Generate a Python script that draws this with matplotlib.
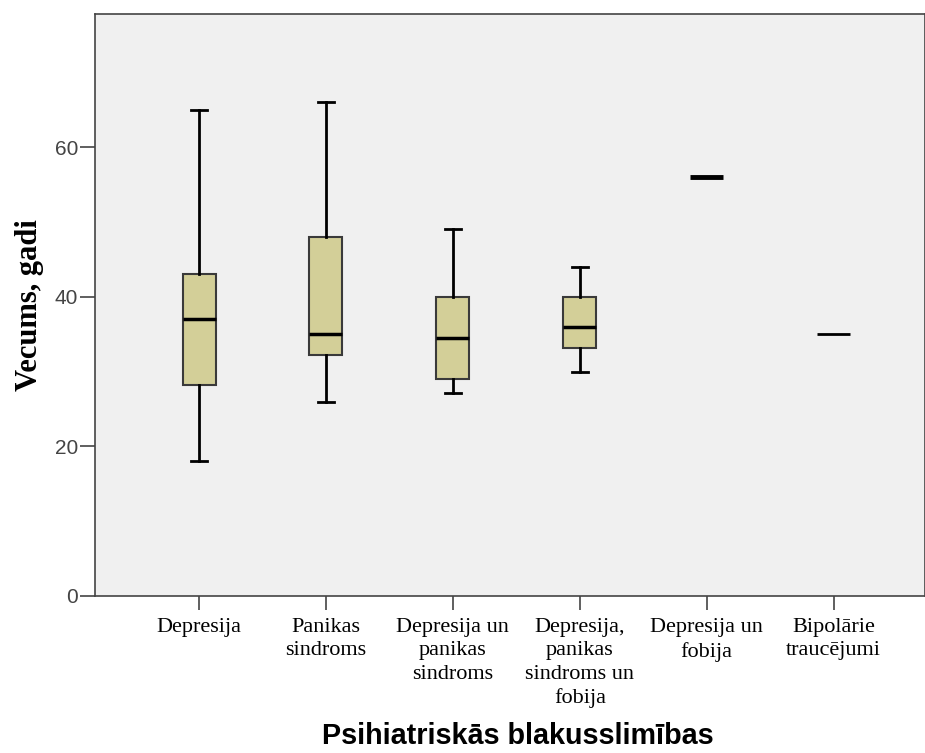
import matplotlib.pyplot as plt

# kategorijas un boxplot statistika (nolasīta no attēla)
labels = ["Depresija", "Panikas\nsindroms", "Depresija un\npanikas\nsindroms",
          "Depresija,\npanikas\nsindroms un\nfobija", "Depresija un\nfobija",
          "Bipolārie\ntraucējumi"]
whislo = [18, 26, 27.2, 30, 56, 35]
q1 = [28.2, 32.2, 29, 33.2, 56, 35]
med = [37, 35, 34.5, 36, 56, 35]
q3 = [43, 48, 40, 40, 56, 35]
whishi = [65, 66, 49, 44, 56, 35]

stats = []
for i in range(len(labels)):
    stats.append(dict(whislo=whislo[i], q1=q1[i], med=med[i], q3=q3[i],
                      whishi=whishi[i], fliers=[]))

fig = plt.figure(figsize=(9.25, 7.53), dpi=100)
ax = fig.add_axes([0.1027, 0.2085, 0.8973, 0.7729])
ax.set_facecolor('#f0f0f0')

pos = list(range(1, len(labels) + 1))
ax.bxp(stats[:4], positions=pos[:4], widths=0.26, patch_artist=True,
       showfliers=False,
       boxprops=dict(facecolor='#d3cf98', edgecolor='#3a3a3a', linewidth=1.5),
       medianprops=dict(color='black', linewidth=2.5),
       whiskerprops=dict(color='black', linewidth=2),
       capprops=dict(color='black', linewidth=2), capwidths=0.13)
# grupas ar vienu vērtību - tikai līnija
ax.hlines(med[4], pos[4] - 0.13, pos[4] + 0.13, color='black', linewidth=3.5)
ax.hlines(med[5], pos[5] - 0.13, pos[5] + 0.13, color='black', linewidth=2)

ax.set_xlim(0.18, 6.72)
ax.set_ylim(0, 77.8)
ax.set_yticks([0, 20, 40, 60])
ax.set_xticks(pos)
ax.set_xticklabels(labels, family='Liberation Serif', fontsize=16,
                   linespacing=1.3)
for t in ax.get_yticklabels():
    t.set_family('Liberation Sans')
    t.set_fontsize(15)
    t.set_color('#444444')
ax.tick_params(axis='y', length=11, width=1.2, color='#444444', pad=1)
ax.tick_params(axis='x', length=10, width=1.2, color='#444444', pad=6)
for s in ax.spines.values():
    s.set_color('#444444')
    s.set_linewidth(1.2)

ax.set_ylabel('Vecums, gadi', family='Liberation Serif', fontweight='bold',
              fontsize=22)
ax.yaxis.set_label_coords(-0.0795, 0.5)
ax.set_xlabel('Psihiatriskās blakusslimības', family='Liberation Sans',
              fontweight='bold', fontsize=20.7)
ax.xaxis.set_label_coords(0.51, -0.2405)
ax.xaxis.label.set_va('center')
ax.yaxis.label.set_va('center')

plt.savefig('out.png')
